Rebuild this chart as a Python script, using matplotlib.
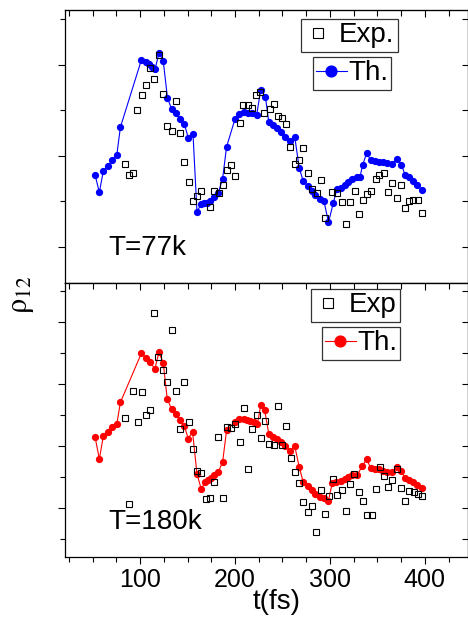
import numpy as np
import matplotlib.pyplot as plt
from matplotlib.ticker import MultipleLocator, NullFormatter

plt.rcParams['font.family'] = ['Liberation Sans', 'DejaVu Sans']
plt.rcParams['mathtext.fontset'] = 'stix'

# ---- T = 77 K ----
th77_t = [52.5, 57.0, 61.2, 65.9, 70.8, 75.4, 79.2, 101.4, 106.0, 109.5, 112.7, 115.8,
          119.8, 124.3, 128.8, 133.1, 137.7, 142.2, 146.5, 150.7, 155.7, 159.9, 164.1,
          167.6, 170.8, 173.9, 177.8, 182.4, 186.9, 191.1, 200.0, 204.5, 209.1, 213.3,
          218.0, 222.8, 227.0, 232.0, 235.5, 240.1, 244.4, 248.6, 253.1, 258.4, 262.9,
          267.6, 271.8, 276.7, 281.3, 284.8, 289.3, 293.6, 298.5, 303.5, 307.3, 311.2,
          315.4, 319.3, 323.1, 328.1, 331.6, 334.4, 338.7, 342.9, 347.1, 351.6, 356.3,
          360.5, 365.8, 370.3, 375.3, 379.1, 383.8, 388.0, 392.2, 397.5]
th77_r = [1.58, 1.20, 1.67, 1.78, 1.90, 2.02, 2.63, 4.11, 4.06, 4.01, 3.96, 3.90,
          4.26, 4.09, 3.27, 3.03, 2.93, 2.81, 2.70, 2.40, 2.48, 0.77, 0.94,
          0.96, 0.97, 1.01, 1.09, 1.19, 1.50, 2.20, 2.81, 2.92, 2.96, 2.95,
          2.93, 2.90, 3.44, 3.30, 2.75, 2.67, 2.60, 2.53, 2.42, 2.32, 2.42,
          1.74, 1.45, 1.34, 1.23, 1.14, 1.05, 1.02, 0.54, 0.96, 1.27, 1.29,
          1.35, 1.43, 1.50, 1.54, 1.53, 1.79, 2.06, 1.91, 1.89, 1.87, 1.86,
          1.84, 1.82, 1.94, 1.81, 1.59, 1.53, 1.45, 1.35, 1.24]
exp77_t = [83.8, 88.1, 92.9, 97.2, 101.8, 106.3, 110.6, 115.1, 119.8, 124.0, 128.5,
           133.1, 137.7, 142.2, 146.5, 151.0, 155.2, 159.9, 164.4, 173.2, 177.8, 182.7,
           186.9, 191.1, 195.8, 200.3, 204.9, 208.8, 213.7, 218.3, 222.5, 226.7, 230.9,
           236.5, 240.8, 245.0, 249.6, 254.2, 258.4, 262.9, 267.6, 271.8, 276.7, 281.3,
           285.9, 290.1, 294.3, 302.4, 307.0, 312.3, 316.8, 321.0, 326.0, 330.2, 334.8,
           338.7, 343.6, 348.2, 351.6, 356.9, 361.6, 365.8, 370.3, 374.9, 379.1, 383.8,
           388.0, 392.5, 397.1]
exp77_r = [1.82, 1.59, 1.63, 3.00, 3.33, 3.55, 3.92, 3.68, 4.21, 3.36, 2.65,
           2.54, 3.20, 2.51, 1.87, 1.43, 1.00, 1.12, 1.23, 0.88, 1.23, 1.18,
           1.37, 1.68, 1.79, 1.55, 2.72, 3.11, 3.11, 3.04, 3.34, 3.39, 2.95,
           3.02, 3.14, 2.88, 2.84, 2.70, 2.19, 1.83, 1.91, 2.18, 1.63, 1.27,
           1.18, 1.48, 0.63, 1.20, 1.19, 0.99, 0.50, 0.99, 1.22, 0.73, 1.04,
           1.16, 1.23, 1.49, 1.59, 1.62, 1.20, 1.40, 1.07, 1.36, 0.86, 1.02,
           1.03, 1.04, 0.74]

# ---- T = 180 K ----
th180_t = [52.5, 57.0, 61.2, 65.9, 70.8, 75.4, 79.2, 101.4, 106.0, 110.6, 115.5,
           119.8, 124.3, 128.5, 133.1, 137.7, 142.2, 146.5, 150.7, 155.2, 159.9, 164.4,
           168.3, 171.5, 174.2, 178.1, 182.4, 186.9, 191.1, 200.0, 204.5, 209.1, 212.7,
           216.2, 219.6, 223.6, 227.0, 231.3, 235.5, 240.1, 244.4, 248.6, 253.1, 258.4,
           262.9, 267.6, 271.8, 276.7, 281.3, 284.8, 289.3, 293.6, 298.5, 302.4, 306.7,
           311.2, 315.4, 319.3, 323.6, 328.8, 334.1, 338.7, 342.9, 347.1, 351.6, 356.3,
           360.5, 365.8, 370.3, 375.3, 379.1, 383.8, 388.0, 392.2, 397.5]
th180_r = [2.29, 1.58, 2.32, 2.46, 2.61, 2.71, 3.41, 5.00, 4.85, 4.70, 4.49,
           5.02, 4.69, 3.53, 3.19, 3.02, 2.84, 2.65, 2.24, 2.46, 1.10, 0.61,
           0.83, 0.89, 0.97, 1.07, 1.17, 1.48, 2.51, 2.78, 2.88, 2.88, 2.85,
           2.82, 2.76, 2.70, 3.31, 3.15, 2.40, 2.30, 2.23, 2.14, 2.01, 1.85,
           2.00, 1.33, 0.84, 0.72, 0.58, 0.45, 0.36, 0.33, 0.24, 0.80, 0.83,
           0.86, 0.94, 1.01, 1.06, 1.07, 1.35, 1.57, 1.30, 1.27, 1.25, 1.20,
           1.17, 1.17, 1.33, 1.20, 0.97, 0.90, 0.83, 0.74, 0.65]
exp180_t = [84.2, 88.4, 92.9, 97.6, 101.8, 106.3, 110.6, 115.1, 119.3, 124.0, 128.8,
            133.5, 137.7, 141.9, 146.5, 151.0, 155.2, 159.9, 164.4, 169.0, 173.6, 177.8,
            182.4, 186.9, 191.1, 196.1, 200.3, 204.9, 209.1, 213.7, 218.3, 222.8, 227.0,
            231.7, 235.9, 240.8, 245.0, 249.6, 254.2, 258.7, 262.9, 267.6, 271.8, 276.4,
            280.9, 285.5, 290.1, 294.3, 298.8, 303.1, 307.7, 312.3, 316.8, 321.0, 325.7,
            330.2, 334.8, 339.4, 343.9, 348.2, 352.7, 356.9, 361.2, 365.8, 370.3, 374.9,
            379.5, 383.8, 388.3, 392.5, 397.1]
exp180_r = [2.89, 0.14, 3.76, 2.77, 3.74, 3.01, 3.15, 6.30, 4.88, 4.44, 4.06,
            5.74, 3.76, 2.55, 4.06, 2.76, 1.89, 1.20, 1.13, 0.29, 0.32, 0.84,
            2.28, 0.32, 2.62, 2.59, 2.72, 2.13, 3.24, 1.27, 2.54, 3.00, 2.26,
            2.80, 2.07, 2.03, 3.29, 2.03, 2.65, 1.60, 1.15, 0.80, 0.19, -0.12,
            0.05, -0.77, 0.57, -0.19, 0.40, 0.93, 0.41, 0.58, -0.09, 0.77, 1.10,
            0.53, 0.22, -0.22, -0.24, 0.61, 1.31, 1.04, 0.67, 0.90, 1.25, 0.65,
            0.23, 0.56, 0.51, 0.44, 0.40]

panels = [
    dict(th_t=th77_t, th_r=th77_r, exp_t=exp77_t, exp_r=exp77_r, color='#0000ff',
         label='T=77k', exp_label='Exp.', ylim=(-0.79, 5.2), major=2, minor=1,
         rect=[65 / 468, 1 - 283 / 624, 402.5 / 468, 273 / 624],
         exp_anchor=(0.706, 0.967), th_anchor=(0.713, 0.828), loc='upper center'),
    dict(th_t=th180_t, th_r=th180_r, exp_t=exp180_t, exp_r=exp180_r, color='#ff0000',
         label='T=180k', exp_label='Exp', ylim=(-1.58, 7.26), major=2, minor=1,
         rect=[65 / 468, 1 - 557 / 624, 402.5 / 468, 274 / 624],
         exp_anchor=(0.833, 0.978), th_anchor=(0.833, 0.839), loc='upper right'),
]

fig = plt.figure(figsize=(4.68, 6.24), dpi=100)

for i, p in enumerate(panels):
    ax = fig.add_axes(p['rect'])
    th, = ax.plot(p['th_t'], p['th_r'], '-o', color=p['color'], lw=0.8,
                  ms=4.2, mec=p['color'], zorder=2)
    ex, = ax.plot(p['exp_t'], p['exp_r'], 's', ms=3.8, mfc='none', mec='black',
                  mew=0.8, zorder=3)
    ax.set_xlim(20.8, 445)
    ax.set_ylim(*p['ylim'])

    ax.xaxis.set_major_locator(MultipleLocator(100))
    ax.xaxis.set_minor_locator(MultipleLocator(25))
    ax.yaxis.set_major_locator(MultipleLocator(p['major']))
    ax.yaxis.set_minor_locator(MultipleLocator(p['minor']))
    ax.yaxis.set_major_formatter(NullFormatter())

    ax.tick_params(axis='y', which='both', left=True, right=False, direction='out')
    ax.tick_params(axis='y', which='major', length=5, width=0.8)
    ax.tick_params(axis='y', which='minor', length=3.5, width=0.8)
    ax.tick_params(axis='x', which='both', bottom=True, top=False, direction='out')
    ax.tick_params(axis='x', which='major', length=5, width=0.8, labelsize=18, pad=3)
    ax.tick_params(axis='x', which='minor', length=3.5, width=0.8)

    # inward ticks on the top and right edges
    sec = ax.secondary_yaxis('right')
    sec.yaxis.set_major_locator(MultipleLocator(p['major']))
    sec.yaxis.set_minor_locator(MultipleLocator(p['minor']))
    sec.yaxis.set_major_formatter(NullFormatter())
    sec.tick_params(which='both', direction='in', length=4, width=0.8)
    secx = ax.secondary_xaxis('top')
    secx.xaxis.set_major_locator(MultipleLocator(100))
    secx.xaxis.set_minor_locator(MultipleLocator(25))
    secx.xaxis.set_major_formatter(NullFormatter())
    secx.tick_params(which='major', direction='in', length=5, width=0.8)
    secx.tick_params(which='minor', direction='in', length=4, width=0.8)

    if i == 0:
        ax.tick_params(axis='x', labelbottom=False)
    else:
        ax.set_xlabel('t(fs)', fontsize=20)
        ax.xaxis.set_label_coords(0.525, -0.115)

    for s in ax.spines.values():
        s.set_linewidth(0.9)

    ax.text(0.107, 0.103, p['label'], transform=ax.transAxes, fontsize=20,
            ha='left', va='baseline')

    leg1 = ax.legend([ex], [p['exp_label']], loc=p['loc'], bbox_to_anchor=p['exp_anchor'],
                     fontsize=20, frameon=True, fancybox=False, edgecolor='black',
                     borderpad=0.12, handletextpad=0.25, handlelength=1.0,
                     borderaxespad=0, markerscale=2.0)
    leg1.get_frame().set_linewidth(0.9)
    ax.add_artist(leg1)
    leg2 = ax.legend([th], ['Th.'], loc=p['loc'], bbox_to_anchor=p['th_anchor'],
                     fontsize=20, frameon=True, fancybox=False, edgecolor='black',
                     borderpad=0.12, handletextpad=0.05, handlelength=1.1,
                     borderaxespad=0, markerscale=1.85)
    leg2.get_frame().set_linewidth(0.9)

fig.text(0.045, 0.528, r'$\mathrm{\rho}_{12}$', rotation=90, fontsize=22,
         ha='center', va='center')

fig.savefig('out.png', dpi=100)
